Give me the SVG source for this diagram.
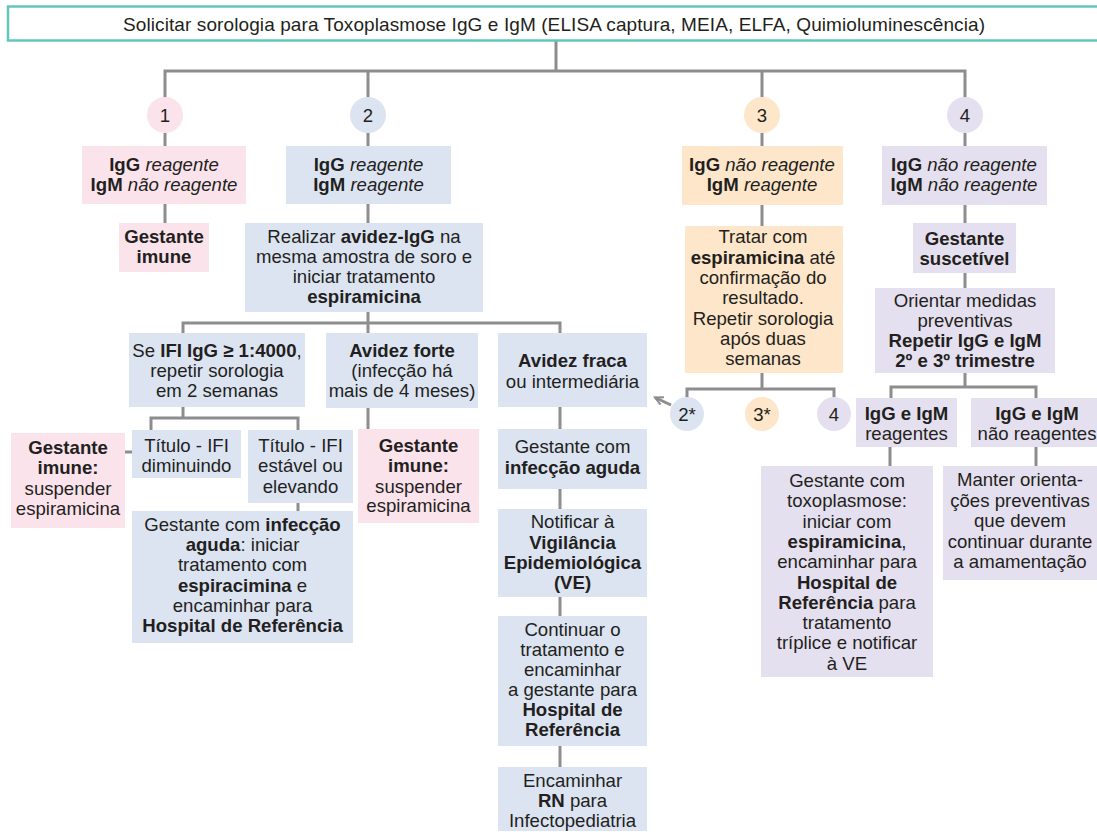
<svg xmlns="http://www.w3.org/2000/svg" width="1097" height="838" viewBox="0 0 1097 838">
<style>
.t{font-family:"Liberation Sans",Arial,sans-serif;font-size:18.6px;fill:#231F20;text-anchor:middle}
.b{font-weight:bold}
.i{font-style:italic}
.pink{fill:#FBE3EC}
.blue{fill:#DCE4F2}
.orange{fill:#FDE6CA}
.lav{fill:#E5E0EF}
.conn{stroke:#8D8D90;stroke-width:3;fill:none}
</style>
<defs>
<marker id="arr" markerUnits="userSpaceOnUse" markerWidth="12" markerHeight="12" refX="9" refY="5" orient="auto">
<path d="M1,1 L9,5 L1,9" fill="none" stroke="#8D8D90" stroke-width="2"/>
</marker>
</defs>
<rect width="1097" height="838" fill="#FFFFFF"/>

<g id="connectors">
<path class="conn" d="M556,41 V71 M165,98 V71 H965 V98 M368,71 V98 M762,71 V98"/>
<path class="conn" d="M165,133 V146 M368,133 V146 M762,133 V146 M965,133 V146"/>
<path class="conn" d="M165,204 V223 M368,204 V223"/>
<path class="conn" d="M368,312 V333 M183,333 V323 H560 V333"/>
<path class="conn" d="M183,407 V418 M151,430 V418 H298 V430"/>
<path class="conn" d="M125,452 H132 M298,503 V511 M368,408 V429"/>
<path class="conn" d="M560,407 V429 M560,489 V509 M560,597 V616 M560,746 V767"/>
<path class="conn" d="M762,205 V226 M762,373 V389 M687,398 V389 H834 V398"/>
<path class="conn" d="M671,405 L655,397.5" marker-end="url(#arr)"/>
<path class="conn" d="M965,205 V223 M965,273 V288 M965,373 V387 M891,398 V387 H1036 V398"/>
<path class="conn" d="M890,447 V466 M1036,447 V466"/>
</g>

<g id="title">
<rect x="8" y="6.5" width="1100" height="34" fill="#FFFFFF" stroke="#62C6BF" stroke-width="2.5"/>
<text class="t" x="554" y="31" style="font-size:19px" textLength="862" lengthAdjust="spacing">Solicitar sorologia para Toxoplasmose IgG e IgM (ELISA captura, MEIA, ELFA, Quimioluminescência)</text>
</g>

<g id="c1"><circle cx="165" cy="115" r="18" class="pink"/><text class="t" x="165" y="121.5">1</text></g>
<g id="c2"><circle cx="368" cy="115" r="18" class="blue"/><text class="t" x="368" y="121.5">2</text></g>
<g id="c3"><circle cx="762" cy="115" r="18" class="orange"/><text class="t" x="762" y="121.5">3</text></g>
<g id="c4"><circle cx="965" cy="115" r="18" class="lav"/><text class="t" x="965" y="121.5">4</text></g>

<g id="h1"><rect x="82" y="146" width="164" height="58" class="pink"/>
<text class="t" x="164" y="171"><tspan class="b">IgG</tspan> <tspan class="i">reagente</tspan></text>
<text class="t" x="164" y="191"><tspan class="b">IgM</tspan> <tspan class="i">não reagente</tspan></text></g>

<g id="h2"><rect x="286" y="146" width="165" height="58" class="blue"/>
<text class="t" x="368.5" y="171"><tspan class="b">IgG</tspan> <tspan class="i">reagente</tspan></text>
<text class="t" x="368.5" y="191"><tspan class="b">IgM</tspan> <tspan class="i">reagente</tspan></text></g>

<g id="h3"><rect x="682" y="146" width="161" height="59" class="orange"/>
<text class="t" x="762" y="171"><tspan class="b">IgG</tspan> <tspan class="i">não reagente</tspan></text>
<text class="t" x="762" y="191"><tspan class="b">IgM</tspan> <tspan class="i">reagente</tspan></text></g>

<g id="h4"><rect x="882" y="146" width="165" height="59" class="lav"/>
<text class="t" x="964" y="171"><tspan class="b">IgG</tspan> <tspan class="i">não reagente</tspan></text>
<text class="t" x="964" y="191"><tspan class="b">IgM</tspan> <tspan class="i">não reagente</tspan></text></g>

<g id="imune1"><rect x="119" y="223" width="90" height="49" class="pink"/>
<text class="t b" x="164" y="243">Gestante</text>
<text class="t b" x="164" y="263">imune</text></g>

<g id="realizar"><rect x="245" y="223" width="238" height="89" class="blue"/>
<text class="t" x="364" y="243">Realizar <tspan class="b">avidez-IgG</tspan> na</text>
<text class="t" x="364" y="263">mesma amostra de soro e</text>
<text class="t" x="364" y="283">iniciar tratamento</text>
<text class="t b" x="364" y="303">espiramicina</text></g>

<g id="seifi"><rect x="129" y="333" width="176" height="74" class="blue"/>
<text class="t" x="217" y="357">Se <tspan class="b">IFI IgG ≥ 1:4000</tspan>,</text>
<text class="t" x="217" y="377">repetir sorologia</text>
<text class="t" x="217" y="397">em 2 semanas</text></g>

<g id="forte"><rect x="326" y="333" width="152" height="75" class="blue"/>
<text class="t b" x="402" y="357">Avidez forte</text>
<text class="t" x="402" y="377">(infecção há</text>
<text class="t" x="402" y="397">mais de 4 meses)</text></g>

<g id="fraca"><rect x="498" y="333" width="149" height="74" class="blue"/>
<text class="t b" x="572.5" y="367">Avidez fraca</text>
<text class="t" x="572.5" y="388">ou intermediária</text></g>

<g id="titdim"><rect x="132" y="430" width="109" height="48" class="blue"/>
<text class="t" x="186.5" y="452">Título - IFI</text>
<text class="t" x="186.5" y="472">diminuindo</text></g>

<g id="titest"><rect x="248" y="430" width="105" height="73" class="blue"/>
<text class="t" x="300.5" y="452">Título - IFI</text>
<text class="t" x="300.5" y="472">estável ou</text>
<text class="t" x="300.5" y="493">elevando</text></g>

<g id="imune2"><rect x="11" y="433" width="114" height="95" class="pink"/>
<text class="t b" x="68" y="454">Gestante</text>
<text class="t b" x="68" y="474">imune:</text>
<text class="t" x="68" y="495">suspender</text>
<text class="t" x="68" y="515">espiramicina</text></g>

<g id="imune3"><rect x="358" y="429" width="121" height="94" class="pink"/>
<text class="t b" x="418.5" y="452">Gestante</text>
<text class="t b" x="418.5" y="472">imune:</text>
<text class="t" x="418.5" y="493">suspender</text>
<text class="t" x="418.5" y="512">espiramicina</text></g>

<g id="aguda1"><rect x="132" y="511" width="221" height="132" class="blue"/>
<text class="t" x="242.5" y="531">Gestante com <tspan class="b">infecção</tspan></text>
<text class="t" x="242.5" y="551"><tspan class="b">aguda</tspan>: iniciar</text>
<text class="t" x="242.5" y="571">tratamento com</text>
<text class="t" x="242.5" y="592"><tspan class="b">espiracimina</tspan> e</text>
<text class="t" x="242.5" y="612">encaminhar para</text>
<text class="t b" x="242.5" y="632">Hospital de Referência</text></g>

<g id="aguda2"><rect x="498" y="429" width="149" height="60" class="blue"/>
<text class="t" x="572.5" y="453">Gestante com</text>
<text class="t b" x="572.5" y="474">infecção aguda</text></g>

<g id="notificar"><rect x="498" y="509" width="149" height="88" class="blue"/>
<text class="t" x="572.5" y="528">Notificar à</text>
<text class="t b" x="572.5" y="548.5">Vigilância</text>
<text class="t b" x="572.5" y="569">Epidemiológica</text>
<text class="t b" x="572.5" y="589">(VE)</text></g>

<g id="continuar"><rect x="498" y="616" width="149" height="130" class="blue"/>
<text class="t" x="572.5" y="636">Continuar o</text>
<text class="t" x="572.5" y="656">tratamento e</text>
<text class="t" x="572.5" y="676">encaminhar</text>
<text class="t" x="572.5" y="696">a gestante para</text>
<text class="t b" x="572.5" y="716">Hospital de</text>
<text class="t b" x="572.5" y="736">Referência</text></g>

<g id="rn"><rect x="498" y="767" width="149" height="64" class="blue"/>
<text class="t" x="572.5" y="787">Encaminhar</text>
<text class="t" x="572.5" y="807"><tspan class="b">RN</tspan> para</text>
<text class="t" x="572.5" y="827">Infectopediatria</text></g>

<g id="tratar"><rect x="685" y="226" width="158" height="147" class="orange"/>
<text class="t" x="763" y="243">Tratar com</text>
<text class="t" x="763" y="264"><tspan class="b">espiramicina</tspan> até</text>
<text class="t" x="763" y="284">confirmação do</text>
<text class="t" x="763" y="304">resultado.</text>
<text class="t" x="763" y="325">Repetir sorologia</text>
<text class="t" x="763" y="345">após duas</text>
<text class="t" x="763" y="365">semanas</text></g>

<g id="c2s"><circle cx="687" cy="414" r="17" class="blue"/><text class="t" x="687" y="420.5">2*</text></g>
<g id="c3s"><circle cx="762" cy="414" r="17" class="orange"/><text class="t" x="762" y="420.5">3*</text></g>
<g id="c4s"><circle cx="834" cy="414" r="17" class="lav"/><text class="t" x="834" y="420.5">4</text></g>

<g id="suscetivel"><rect x="913" y="223" width="103" height="50" class="lav"/>
<text class="t b" x="964.5" y="245">Gestante</text>
<text class="t b" x="964.5" y="265">suscetível</text></g>

<g id="orientar"><rect x="875" y="288" width="180" height="85" class="lav"/>
<text class="t" x="965" y="307">Orientar medidas</text>
<text class="t" x="965" y="327">preventivas</text>
<text class="t b" x="965" y="347">Repetir IgG e IgM</text>
<text class="t b" x="965" y="367">2º e 3º trimestre</text></g>

<g id="reag"><rect x="856" y="398" width="101" height="49" class="lav"/>
<text class="t b" x="906.5" y="420">IgG e IgM</text>
<text class="t" x="906.5" y="440">reagentes</text></g>

<g id="naoreag"><rect x="971" y="398" width="140" height="49" class="lav"/>
<text class="t b" x="1037" y="420">IgG e IgM</text>
<text class="t" x="1037" y="440">não reagentes</text></g>

<g id="toxo"><rect x="761" y="466" width="172" height="211" class="lav"/>
<text class="t" x="847" y="487">Gestante com</text>
<text class="t" x="847" y="507">toxoplasmose:</text>
<text class="t" x="847" y="527.5">iniciar com</text>
<text class="t" x="847" y="548"><tspan class="b">espiramicina</tspan>,</text>
<text class="t" x="847" y="568">encaminhar para</text>
<text class="t b" x="847" y="588.5">Hospital de</text>
<text class="t" x="847" y="609"><tspan class="b">Referência</tspan> para</text>
<text class="t" x="847" y="629">tratamento</text>
<text class="t" x="847" y="649">tríplice e notificar</text>
<text class="t" x="847" y="669.5">à VE</text></g>

<g id="manter"><rect x="943" y="466" width="170" height="114" class="lav"/>
<text class="t" x="1020" y="486">Manter orienta-</text>
<text class="t" x="1020" y="506.5">ções preventivas</text>
<text class="t" x="1020" y="527">que devem</text>
<text class="t" x="1020" y="547.5">continuar durante</text>
<text class="t" x="1020" y="568">a amamentação</text></g>
</svg>
